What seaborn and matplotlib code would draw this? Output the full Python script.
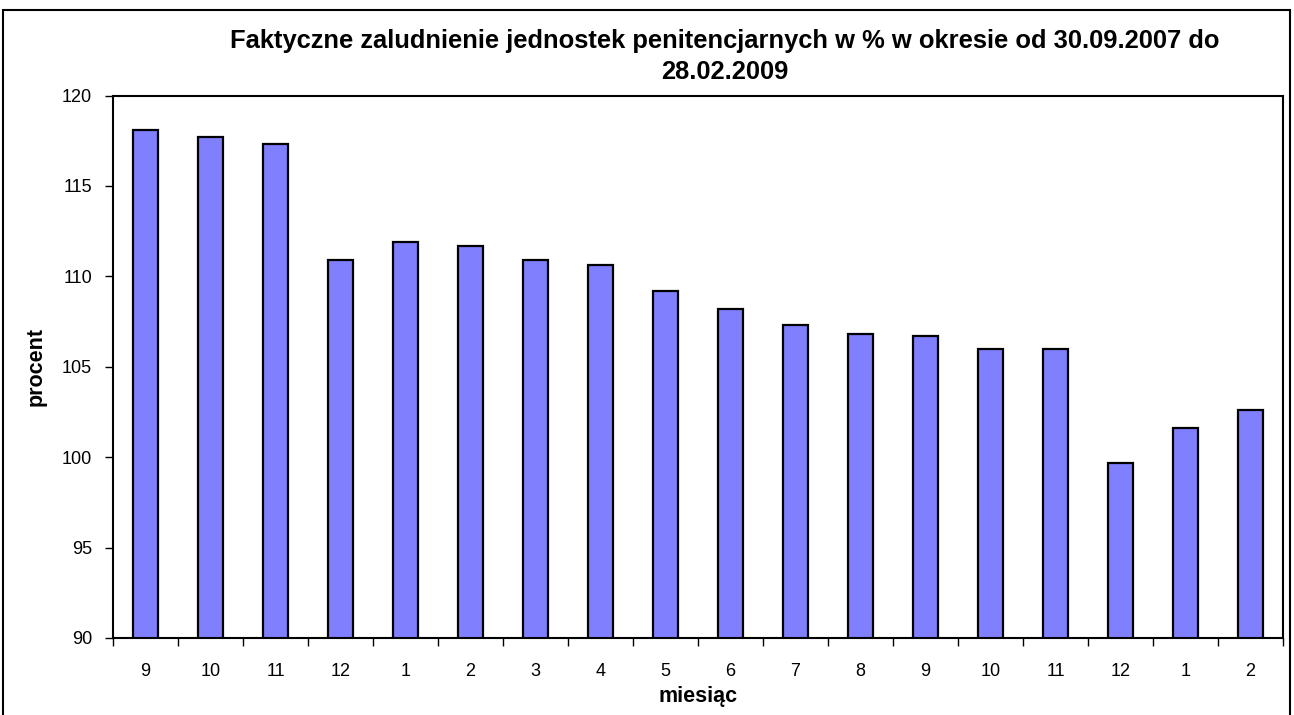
import pandas as pd
import matplotlib.pyplot as plt
import seaborn as sns
from matplotlib.patches import Rectangle

okres = ['2007-09', '2007-10', '2007-11', '2007-12', '2008-01', '2008-02', '2008-03',
         '2008-04', '2008-05', '2008-06', '2008-07', '2008-08', '2008-09', '2008-10',
         '2008-11', '2008-12', '2009-01', '2009-02']
miesiac = ['9', '10', '11', '12', '1', '2', '3', '4', '5', '6', '7', '8', '9', '10',
           '11', '12', '1', '2']
procent = [118.1, 117.7, 117.3, 110.9, 111.9, 111.7, 110.9, 110.6, 109.2, 108.2,
           107.3, 106.8, 106.7, 106.0, 106.0, 99.7, 101.6, 102.6]

df = pd.DataFrame({'okres': okres, 'procent': procent})

sns.set_style('ticks')
plt.rcParams['font.family'] = ['Liberation Sans', 'DejaVu Sans']
plt.rcParams.update({'text.color': 'black', 'axes.labelcolor': 'black',
                     'xtick.color': 'black', 'ytick.color': 'black'})

W, H = 1294, 715
fig = plt.figure(figsize=(W / 100, H / 100), dpi=100)
ax = fig.add_axes([113 / W, 1 - 638 / H, (1283 - 113) / W, (638 - 95.5) / H])

sns.barplot(data=df, x='okres', y='procent', color='#8080FF', saturation=1,
            edgecolor='black', linewidth=1.6, width=0.39, ax=ax)

ax.set_ylim(90, 120)
ax.set_yticks(range(90, 121, 5))
ax.set_xlim(-0.5, len(okres) - 0.5)
ax.set_xticks(range(len(okres)))
ax.set_xticklabels(miesiac)
ax.set_xticks([i + 0.5 for i in range(-1, len(okres))], minor=True)
ax.tick_params(axis='x', which='major', length=0, pad=18, labelsize=13)
ax.tick_params(axis='x', which='minor', bottom=True, length=6, width=1, direction='out')
ax.tick_params(axis='y', which='major', left=True, length=6, width=1, direction='out',
               pad=9, labelsize=13)
ax.tick_params(axis='y', which='minor', left=False)

for s in ax.spines.values():
    s.set_visible(True)
    s.set_color('black')
    s.set_linewidth(1.5)

ax.set_xlabel('miesiąc', fontsize=15.5, fontweight='bold', labelpad=4)
ax.set_ylabel('procent', fontsize=15.5, fontweight='bold', labelpad=11)

fig.text(725 / W, 1 - 56.5 / H,
         'Faktyczne zaludnienie jednostek penitencjarnych w % w okresie od 30.09.2007 do\n28.02.2009',
         ha='center', va='center', fontsize=18.4, fontweight='bold', linespacing=1.4)

fig.patches.append(Rectangle((3 / W, -0.02), (1290 - 3) / W, 1.02 - 10 / H,
                             transform=fig.transFigure, fill=False,
                             edgecolor='black', linewidth=1.5))

fig.savefig('out.png', dpi=100)
